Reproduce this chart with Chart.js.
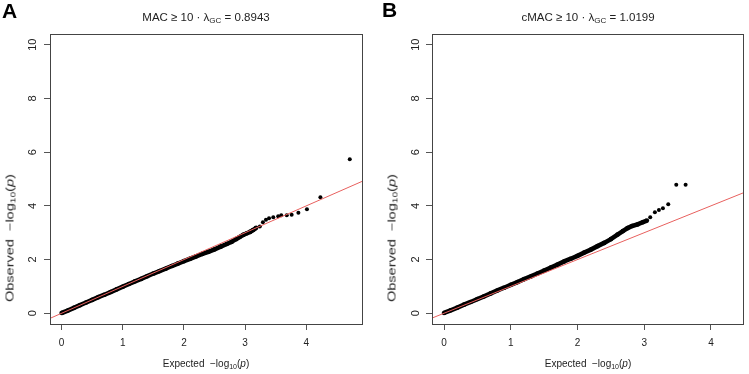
<!DOCTYPE html>
<html>
<head>
<meta charset="utf-8">
<script src="https://cdn.jsdelivr.net/npm/chart.js@4"></script>
<style>
  body { margin: 0; background: #fff; }
  #wrap { position: relative; width: 749px; height: 374px; font-family: 'Liberation Sans', Arial, sans-serif; color: #222; }
  canvas { position: absolute; top: 0; }
  .lbl { position: absolute; white-space: nowrap; transform: translate(-50%, -50%); }
  .title { font-size: 11.5px; }
  .axt { font-size: 10px; }
  .ylab { transform: translate(-50%, -50%) rotate(-90deg) scaleX(1.45); }
  .panel { position: absolute; font-weight: bold; font-size: 21px; color: #000; }
  sub { font-size: 70%; vertical-align: -2px; line-height: 0; }
</style>
</head>
<body>
<div id="wrap">
  <canvas id="qqA" width="374" height="374" style="left:0"></canvas>
  <canvas id="qqB" width="375" height="374" style="left:374px"></canvas>

  <div class="panel" style="left:2px; top:-1px">A</div>
  <div class="panel" style="left:382px; top:-2px">B</div>
  <div class="lbl title" style="left:206px; top:17px">MAC &ge; 10 &middot; &lambda;<sub>GC</sub> = 0.8943</div>
  <div class="lbl title" style="left:588px; top:17px">cMAC &ge; 10 &middot; &lambda;<sub>GC</sub> = 1.0199</div>
  <div class="lbl axt" style="left:206px; top:363px">Expected &nbsp;&minus;log<sub>10</sub>(<i>p</i>)</div>
  <div class="lbl axt" style="left:588px; top:363px">Expected &nbsp;&minus;log<sub>10</sub>(<i>p</i>)</div>
  <div class="lbl axt ylab" style="left:10px; top:238px">Observed &nbsp;&minus;log<sub>10</sub>(<i>p</i>)</div>
  <div class="lbl axt ylab" style="left:392px; top:238px">Observed &nbsp;&minus;log<sub>10</sub>(<i>p</i>)</div>
</div>
<script>
// tick labels
var xTicks = [0, 1, 2, 3, 4];
var yTicks = [0, 2, 4, 6, 8, 10];

// panel A: MAC >= 10 (expected vs observed -log10 p)
var aBodyExp = [0, 0.1, 0.2, 0.3, 0.4, 0.5, 0.6, 0.7, 0.8, 0.9, 1.0, 1.1, 1.2, 1.3, 1.4, 1.5, 1.6, 1.7, 1.8, 1.9, 2.0, 2.1, 2.2, 2.3, 2.4, 2.5, 2.6, 2.7, 2.78, 2.85, 2.91, 2.97, 3.03, 3.08, 3.13, 3.18];
var aBodyObs = [0.01, 0.1, 0.2, 0.3, 0.4, 0.5, 0.6, 0.69, 0.79, 0.89, 0.99, 1.09, 1.19, 1.28, 1.38, 1.48, 1.57, 1.66, 1.76, 1.85, 1.94, 2.03, 2.12, 2.21, 2.29, 2.38, 2.48, 2.58, 2.66, 2.76, 2.84, 2.92, 2.98, 3.03, 3.1, 3.18];
var aTailExp = [3.24, 3.29, 3.34, 3.39, 3.46, 3.54, 3.59, 3.68, 3.76, 3.87, 4.01, 4.23, 4.71];
var aTailObs = [3.23, 3.39, 3.48, 3.54, 3.58, 3.61, 3.65, 3.65, 3.67, 3.74, 3.87, 4.32, 5.74];

// panel B: cMAC >= 10
var bBodyExp = [0, 0.1, 0.2, 0.3, 0.4, 0.5, 0.6, 0.7, 0.8, 0.9, 1.0, 1.1, 1.2, 1.3, 1.4, 1.5, 1.6, 1.7, 1.8, 1.9, 2.0, 2.1, 2.2, 2.3, 2.4, 2.5, 2.6, 2.68, 2.75, 2.82, 2.9, 2.98, 3.04];
var bBodyObs = [0.01, 0.11, 0.21, 0.32, 0.42, 0.53, 0.63, 0.74, 0.85, 0.95, 1.06, 1.16, 1.27, 1.37, 1.48, 1.59, 1.7, 1.81, 1.93, 2.03, 2.14, 2.26, 2.37, 2.5, 2.62, 2.76, 2.93, 3.06, 3.17, 3.25, 3.31, 3.39, 3.45];
var bTailExp = [3.09, 3.16, 3.22, 3.28, 3.36, 3.48, 3.62];
var bTailObs = [3.58, 3.76, 3.85, 3.91, 4.06, 4.79, 4.79];

// y = x reference line
var diag = [-1, 6];

function toPoints(xs, ys) {
    return xs.map(function (x, i) { return { x: x, y: ys[i] }; });
}

var boxPlugin = {
    id: 'box',
    afterDraw: function (chart) {
        var a = chart.chartArea;
        var ctx = chart.ctx;
        ctx.save();
        ctx.strokeStyle = '#444';
        ctx.lineWidth = 1;
        ctx.strokeRect(Math.round(a.left) + 0.5, Math.round(a.top) + 0.5, Math.round(a.right - a.left), Math.round(a.bottom - a.top));
        ctx.restore();
    }
};

function qqPlot(id, bodyX, bodyY, tailX, tailY, xRange, yAxisWidth, padRight, yPad) {
    var ctx = document.getElementById(id);
    return new Chart(ctx, {
        type: 'scatter',
        data: {
            datasets: [
                {
                    data: toPoints(diag, diag),
                    showLine: true,
                    borderColor: '#e8605e',
                    borderWidth: 1,
                    pointRadius: 0,
                    order: 0
                },
                {
                    data: toPoints(bodyX, bodyY),
                    showLine: true,
                    borderColor: '#000',
                    borderWidth: 4.6,
                    backgroundColor: '#000',
                    pointRadius: 2.3,
                    pointBorderWidth: 0,
                    order: 1
                },
                {
                    data: toPoints(tailX, tailY),
                    backgroundColor: '#000',
                    pointRadius: 2,
                    pointBorderWidth: 0,
                    order: 1
                }
            ]
        },
        options: {
            responsive: false,
            animation: false,
            devicePixelRatio: 1,
            layout: { padding: { left: 0, top: 34, right: padRight, bottom: 0 } },
            plugins: { legend: { display: false }, tooltip: { enabled: false } },
            scales: {
                x: {
                    type: 'linear',
                    min: xRange[0],
                    max: xRange[1],
                    afterBuildTicks: function (s) { s.ticks = xTicks.map(function (v) { return { value: v }; }); },
                    afterFit: function (s) { s.height = 50; },
                    grid: { drawOnChartArea: false, drawTicks: true, tickLength: 6, color: '#555' },
                    border: { display: false },
                    ticks: { padding: 7, color: '#222', font: { family: 'Liberation Sans', size: 10 } }
                },
                y: {
                    type: 'linear',
                    min: -0.4,
                    max: 10.4,
                    afterBuildTicks: function (s) { s.ticks = yTicks.map(function (v) { return { value: v }; }); },
                    afterFit: function (s) { s.width = yAxisWidth; },
                    grid: { drawOnChartArea: false, drawTicks: true, tickLength: 6, color: '#555' },
                    border: { display: false },
                    ticks: { minRotation: 90, maxRotation: 90, crossAlign: 'center', padding: yPad, color: '#222', font: { family: 'Liberation Sans', size: 11 } }
                }
            }
        },
        plugins: [boxPlugin]
    });
}

qqPlot('qqA', aBodyExp, aBodyObs, aTailExp, aTailObs, [-0.19, 4.91], 50, 12, 5);
qqPlot('qqB', bBodyExp, bBodyObs, bTailExp, bTailObs, [-0.18, 4.48], 58, 6, 3.5);
</script>
</body>
</html>
